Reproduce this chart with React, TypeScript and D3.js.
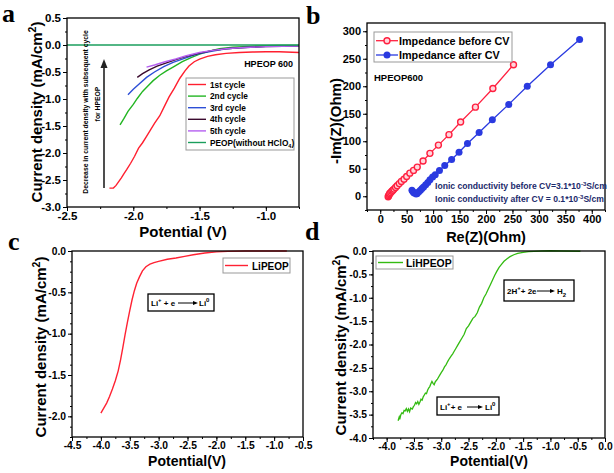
import { useEffect, useRef } from "react";
import * as d3 from "d3";

type Pt = [number, number];

// ---- panel a: LSV cycles, potential (V) vs current density (mA/cm2)
const cycleNames = ["1st cycle", "2nd cycle", "3rd cycle", "4th cycle", "5th cycle", "PEOP(without HClO"];
const cycleColors = ["#ff1f2f", "#22b522", "#2d4fd6", "#3a0a2e", "#b55ff0", "#1a9e5c"];
const cycle1: Pt[] = [[-2.18, -2.65], [-2.15, -2.65], [-2.13, -2.6], [-2.11, -2.53], [-2.09, -2.46], [-2.07, -2.38], [-2.05, -2.31], [-2.02, -2.19], [-1.99, -2.06], [-1.96, -1.91], [-1.93, -1.81], [-1.9, -1.69], [-1.87, -1.57], [-1.84, -1.45], [-1.8, -1.31], [-1.77, -1.16], [-1.73, -0.96], [-1.69, -0.8], [-1.65, -0.62], [-1.61, -0.48], [-1.58, -0.39], [-1.54, -0.31], [-1.5, -0.26], [-1.44, -0.21], [-1.38, -0.18], [-1.3, -0.155], [-1.2, -0.14], [-1.1, -0.13], [-1.0, -0.125], [-0.9, -0.125], [-0.8, -0.135], [-0.75, -0.14]];
const cycle2: Pt[] = [[-2.1, -1.48], [-2.07, -1.36], [-2.04, -1.23], [-2.0, -1.1], [-1.97, -0.99], [-1.93, -0.86], [-1.89, -0.76], [-1.85, -0.66], [-1.8, -0.56], [-1.75, -0.48], [-1.7, -0.41], [-1.63, -0.31], [-1.56, -0.23], [-1.5, -0.17], [-1.42, -0.11], [-1.35, -0.07], [-1.25, -0.04], [-1.1, -0.02], [-0.9, -0.01], [-0.75, -0.01]];
const cycle3: Pt[] = [[-2.04, -0.92], [-2.0, -0.82], [-1.96, -0.73], [-1.9, -0.6], [-1.84, -0.5], [-1.77, -0.4], [-1.7, -0.32], [-1.63, -0.26], [-1.56, -0.2], [-1.5, -0.16], [-1.4, -0.11], [-1.3, -0.07], [-1.2, -0.05], [-1.0, -0.025], [-0.75, -0.02]];
const cycle4: Pt[] = [[-1.97, -0.6], [-1.93, -0.53], [-1.88, -0.46], [-1.82, -0.39], [-1.75, -0.33], [-1.68, -0.27], [-1.6, -0.21], [-1.5, -0.15], [-1.4, -0.1], [-1.3, -0.07], [-1.2, -0.05], [-1.0, -0.03], [-0.75, -0.02]];
const cycle5: Pt[] = [[-1.9, -0.41], [-1.84, -0.37], [-1.76, -0.31], [-1.68, -0.26], [-1.6, -0.2], [-1.5, -0.14], [-1.4, -0.1], [-1.3, -0.07], [-1.2, -0.05], [-1.0, -0.03], [-0.75, -0.02]];
const peop: Pt[] = [[-2.5, 0], [-0.75, 0]];
const aXTicks = [-2.5, -2.0, -1.5, -1.0];
const aYTicks = [0.5, 0.0, -0.5, -1.0, -1.5, -2.0, -2.5, -3.0];

// ---- panel b: Nyquist, Re(Z) vs -Im(Z)
const beforeCV: Pt[] = [[15, -1], [16, 1], [17, 3], [18, 5], [20, 7], [22, 9], [24, 11], [26, 13], [29, 16], [32, 19], [36, 23], [40, 27], [45, 31], [50, 36], [56, 42], [63, 47], [70, 53], [81, 64], [94, 78], [110, 93], [130, 112], [152, 135], [180, 162], [213, 196], [252, 239]];
const afterCV: Pt[] = [[60, 11], [62, 8], [64, 6], [68, 4], [70, 5], [73, 8], [76, 11], [79, 14], [82, 17], [86, 21], [90, 25], [94, 30], [99, 35], [104, 39], [112, 47], [122, 56], [135, 67], [149, 80], [165, 96], [187, 116], [212, 139], [243, 167], [278, 200], [322, 239], [377, 285]];
const bXTicks = [0, 50, 100, 150, 200, 250, 300, 350, 400];
const bYTicks = [0, 50, 100, 150, 200, 250, 300];

// ---- panel c: LiPEOP
const liPeop: Pt[] = [[-4.0, -1.96], [-3.95, -1.9], [-3.9, -1.84], [-3.85, -1.76], [-3.8, -1.67], [-3.75, -1.57], [-3.7, -1.45], [-3.66, -1.32], [-3.62, -1.17], [-3.58, -1.01], [-3.54, -0.86], [-3.5, -0.72], [-3.46, -0.59], [-3.42, -0.48], [-3.38, -0.39], [-3.33, -0.31], [-3.28, -0.24], [-3.22, -0.19], [-3.15, -0.16], [-3.08, -0.14], [-3.0, -0.125], [-2.85, -0.1], [-2.7, -0.085], [-2.55, -0.065], [-2.4, -0.045], [-2.2, -0.025], [-2.0, -0.01], [-1.8, -0.004], [-1.5, 0], [-0.78, 0]];
const cXTicks = [-4.5, -4.0, -3.5, -3.0, -2.5, -2.0, -1.5, -1.0, -0.5];
const cYTicks = [0.0, -0.5, -1.0, -1.5, -2.0];

// ---- panel d: LiHPEOP
const liHpeop: Pt[] = [[-3.79, -3.63], [-3.77, -3.55], [-3.76, -3.6], [-3.74, -3.5], [-3.72, -3.46], [-3.7, -3.48], [-3.68, -3.41], [-3.66, -3.42], [-3.64, -3.37], [-3.62, -3.43], [-3.6, -3.38], [-3.58, -3.44], [-3.56, -3.36], [-3.53, -3.38], [-3.51, -3.33], [-3.49, -3.3], [-3.47, -3.24], [-3.45, -3.27], [-3.43, -3.22], [-3.41, -3.28], [-3.39, -3.23], [-3.37, -3.17], [-3.35, -3.19], [-3.33, -3.12], [-3.31, -3.08], [-3.29, -3.04], [-3.27, -3.05], [-3.25, -2.98], [-3.23, -2.93], [-3.21, -2.9], [-3.19, -2.84], [-3.17, -2.79], [-3.15, -2.83], [-3.13, -2.86], [-3.11, -2.8], [-3.09, -2.77], [-3.07, -2.74], [-3.05, -2.7], [-3.03, -2.66], [-3.0, -2.6], [-2.97, -2.55], [-2.94, -2.48], [-2.91, -2.43], [-2.88, -2.36], [-2.85, -2.3], [-2.82, -2.25], [-2.79, -2.2], [-2.76, -2.14], [-2.73, -2.08], [-2.7, -2.02], [-2.66, -1.94], [-2.62, -1.86], [-2.58, -1.78], [-2.54, -1.66], [-2.5, -1.6], [-2.46, -1.52], [-2.42, -1.44], [-2.38, -1.4], [-2.34, -1.32], [-2.3, -1.2], [-2.26, -1.12], [-2.22, -1.0], [-2.18, -0.92], [-2.14, -0.82], [-2.1, -0.72], [-2.06, -0.62], [-2.02, -0.52], [-1.98, -0.43], [-1.94, -0.35], [-1.9, -0.29], [-1.85, -0.22], [-1.8, -0.17], [-1.74, -0.12], [-1.67, -0.08], [-1.6, -0.05], [-1.5, -0.03], [-1.4, -0.015], [-1.3, -0.007], [-1.15, 0], [-1.0, 0.005], [-0.8, 0], [-0.45, -0.005]];
const dXTicks = [-4.0, -3.5, -3.0, -2.5, -2.0, -1.5, -1.0, -0.5, 0.0];
const dYTicks = [0.0, -0.5, -1.0, -1.5, -2.0, -2.5, -3.0, -3.5, -4.0];

const FONT = "'Liberation Sans', Arial, sans-serif";
const SERIF = "'Liberation Serif', 'Times New Roman', serif";

type Sel = d3.Selection<SVGSVGElement, unknown, null, undefined>;
interface Box { l: number; r: number; t: number; b: number }

function frame(
  svg: Sel, box: Box, xDom: number[], yDom: number[],
  xTicks: number[], yTicks: number[], xMinorStep: number, yMinorStep: number,
  fs: number, fmt: (d: number) => string,
) {
  const x = d3.scaleLinear().domain(xDom).range([box.l, box.r]);
  const y = d3.scaleLinear().domain(yDom).range([box.b, box.t]);
  const xMinor = d3.range(xDom[0], xDom[1] + 1e-9, xMinorStep);
  const yMinor = d3.range(yDom[0], yDom[1] + 1e-9, yMinorStep);
  const g = svg.append("g");

  const style = (s: d3.Selection<SVGGElement, unknown, null, undefined>) => {
    s.select(".domain").remove();
    s.selectAll(".tick line").attr("stroke", "#000").attr("stroke-width", 1);
    s.selectAll("text").attr("font-family", FONT).attr("font-weight", "bold").attr("font-size", fs).attr("fill", "#000");
  };

  g.append("g").attr("transform", `translate(0,${box.b})`)
    .call(d3.axisBottom(x).tickValues(xMinor).tickSize(2).tickFormat(() => "")).call(style);
  g.append("g").attr("transform", `translate(0,${box.b})`)
    .call(d3.axisBottom(x).tickValues(xTicks).tickSize(4).tickPadding(1).tickFormat((d) => fmt(+d))).call(style);
  g.append("g").attr("transform", `translate(${box.l},0)`)
    .call(d3.axisLeft(y).tickValues(yMinor).tickSize(2).tickFormat(() => "")).call(style);
  g.append("g").attr("transform", `translate(${box.l},0)`)
    .call(d3.axisLeft(y).tickValues(yTicks).tickSize(4).tickPadding(2).tickFormat((d) => fmt(+d))).call(style);

  return { x, y, g };
}

function border(svg: Sel, box: Box) {
  svg.append("rect").attr("x", box.l).attr("y", box.t).attr("width", box.r - box.l).attr("height", box.b - box.t)
    .attr("fill", "none").attr("stroke", "#000").attr("stroke-width", 1.3);
}

function boldText(svg: Sel, x: number, y: number, fs: number, str: string, anchor = "start") {
  return svg.append("text").attr("x", x).attr("y", y).attr("font-family", FONT).attr("font-weight", "bold")
    .attr("font-size", fs).attr("text-anchor", anchor).text(str);
}

function yTitle(svg: Sel, cx: number, cy: number, fs: number) {
  const t = svg.append("text").attr("transform", `translate(${cx},${cy}) rotate(-90)`).attr("text-anchor", "middle")
    .attr("font-family", FONT).attr("font-weight", "bold").attr("font-size", fs);
  t.append("tspan").text("Current density (mA/cm");
  t.append("tspan").attr("dy", -fs * 0.4).attr("font-size", fs * 0.7).text("2");
  t.append("tspan").attr("dy", fs * 0.4).text(")");
}

function letter(svg: Sel, x: number, y: number, s: string) {
  svg.append("text").attr("x", x).attr("y", y).attr("font-family", SERIF).attr("font-weight", "bold").attr("font-size", 26).text(s);
}

function arrowLine(svg: Sel, x1: number, x2: number, y: number) {
  svg.append("line").attr("x1", x1).attr("x2", x2 - 4).attr("y1", y).attr("y2", y).attr("stroke", "#000").attr("stroke-width", 1);
  svg.append("path").attr("d", `M${x2},${y} L${x2 - 5},${y - 2} L${x2 - 5},${y + 2} Z`).attr("fill", "#000");
}

const fmt1 = (d: number) => d.toFixed(1);

export default function App() {
  const ref = useRef<SVGSVGElement>(null);

  useEffect(() => {
    if (!ref.current) return;
    const svg = d3.select(ref.current);
    svg.selectAll("*").remove();
    svg.append("rect").attr("width", 614).attr("height", 473).attr("fill", "#fff");

    // ===== a =====
    const boxA = { l: 67, r: 299, t: 18, b: 207 };
    const A = frame(svg, boxA, [-2.5, -0.75], [-3.0, 0.5], aXTicks, aYTicks, 0.25, 0.25, 11.5, fmt1);
    const lineA = d3.line<Pt>().x((d) => A.x(d[0])).y((d) => A.y(d[1]));
    [cycle1, cycle2, cycle3, cycle4, cycle5, peop].forEach((s, i) => {
      svg.append("path").datum(s).attr("d", lineA).attr("fill", "none").attr("stroke", cycleColors[i]).attr("stroke-width", 1.4);
    });
    border(svg, boxA);
    yTitle(svg, 42, 112, 15);
    boldText(svg, 183, 237, 15, "Potential (V)", "middle");
    boldText(svg, 293, 67, 9, "HPEOP 600", "end");
    // legend a
    svg.append("rect").attr("x", 186).attr("y", 78).attr("width", 108).attr("height", 72)
      .attr("fill", "#fff").attr("stroke", "#999").attr("stroke-width", 1);
    cycleNames.forEach((n, i) => {
      const ry = 84.5 + i * 11.6;
      svg.append("line").attr("x1", 188).attr("x2", 206).attr("y1", ry).attr("y2", ry).attr("stroke", cycleColors[i]).attr("stroke-width", 1.4);
      const t = boldText(svg, 210, ry + 3, 8.3, n);
      if (i === 5) {
        t.append("tspan").attr("dy", 2).attr("font-size", 5.5).text("4");
        t.append("tspan").attr("dy", -2).text(")");
      }
    });
    // arrow + note
    svg.append("line").attr("x1", 104).attr("x2", 104).attr("y1", 188).attr("y2", 66).attr("stroke", "#222").attr("stroke-width", 1.6);
    svg.append("path").attr("d", "M104,59 L100.5,68 L107.5,68 Z").attr("fill", "#222");
    svg.append("text").attr("transform", "translate(88,112) rotate(-90)").attr("text-anchor", "middle")
      .attr("font-family", FONT).attr("font-weight", "bold").attr("font-size", 6.8)
      .text("Decrease in current density with subsequent cycle");
    svg.append("text").attr("transform", "translate(100,104) rotate(-90)").attr("text-anchor", "middle")
      .attr("font-family", FONT).attr("font-weight", "bold").attr("font-size", 6.8).text("for HPEOP");
    letter(svg, 2, 22, "a");

    // ===== b =====
    const boxB = { l: 367, r: 605, t: 23, b: 210 };
    const B = frame(svg, boxB, [-25, 425], [-25, 315], bXTicks, bYTicks, 25, 25, 11, (d) => String(d));
    const lineB = d3.line<Pt>().x((d) => B.x(d[0])).y((d) => B.y(d[1]));
    svg.append("path").datum(beforeCV).attr("d", lineB).attr("fill", "none").attr("stroke", "#ff2040").attr("stroke-width", 1.3);
    svg.append("path").datum(afterCV).attr("d", lineB).attr("fill", "none").attr("stroke", "#2a3ae0").attr("stroke-width", 1.3);
    svg.append("g").selectAll("circle").data(beforeCV).join("circle")
      .attr("cx", (d) => B.x(d[0])).attr("cy", (d) => B.y(d[1])).attr("r", 3)
      .attr("fill", "#ffd6dc").attr("stroke", "#ff2040").attr("stroke-width", 1.4);
    svg.append("g").selectAll("circle").data(afterCV).join("circle")
      .attr("cx", (d) => B.x(d[0])).attr("cy", (d) => B.y(d[1])).attr("r", 3.5).attr("fill", "#2a3ae0");
    border(svg, boxB);
    svg.append("text").attr("transform", "translate(341,121) rotate(-90)").attr("text-anchor", "middle")
      .attr("font-family", FONT).attr("font-weight", "bold").attr("font-size", 15).text("-Im(Z)(Ohm)");
    boldText(svg, 486, 242, 14.5, "Re(Z)(Ohm)", "middle");
    svg.append("rect").attr("x", 374).attr("y", 32).attr("width", 138).attr("height", 30)
      .attr("fill", "#fff").attr("stroke", "#999").attr("stroke-width", 1);
    const legB: [string, string, number][] = [["Impedance before CV", "#ff2040", 40.7], ["Impedance after CV", "#2a3ae0", 55]];
    legB.forEach(([n, c, ry], i) => {
      svg.append("line").attr("x1", 376).attr("x2", 398).attr("y1", ry).attr("y2", ry).attr("stroke", c).attr("stroke-width", 1.3);
      svg.append("circle").attr("cx", 387).attr("cy", ry).attr("r", i === 0 ? 3 : 3.5)
        .attr("fill", i === 0 ? "#ffd6dc" : c).attr("stroke", c).attr("stroke-width", i === 0 ? 1.4 : 0);
      boldText(svg, 399, ry + 4, 10.8, n);
    });
    boldText(svg, 374, 81, 9.5, "HPEOP600");
    const cond = (y: number, a: string, b: string) => {
      const t = boldText(svg, 435, y, 8.6, a).attr("fill", "#1b2a6b");
      t.append("tspan").attr("dy", -3).attr("font-size", 6).text("-3");
      t.append("tspan").attr("dy", 3).text(b);
    };
    cond(189, "Ionic conductivity before CV=3.1*10", "S/cm");
    cond(202, "Ionic conductivity after CV = 0.1*10", "S/cm");
    letter(svg, 306, 24, "b");

    // ===== c =====
    const boxC = { l: 72, r: 303, t: 251, b: 437 };
    const C = frame(svg, boxC, [-4.5, -0.5], [-2.25, 0], cXTicks, cYTicks, 0.25, 0.125, 10.3, fmt1);
    const lineC = d3.line<Pt>().x((d) => C.x(d[0])).y((d) => C.y(d[1]));
    svg.append("path").datum(liPeop).attr("d", lineC).attr("fill", "none").attr("stroke", "#ff2233").attr("stroke-width", 1.4);
    border(svg, boxC);
    yTitle(svg, 46, 347, 15);
    boldText(svg, 187, 466, 14, "Potential(V)", "middle");
    svg.append("rect").attr("x", 223).attr("y", 258).attr("width", 67).attr("height", 15)
      .attr("fill", "#fff").attr("stroke", "#999").attr("stroke-width", 1);
    svg.append("line").attr("x1", 225).attr("x2", 248).attr("y1", 265.5).attr("y2", 265.5).attr("stroke", "#ff2233").attr("stroke-width", 1.4);
    boldText(svg, 252, 269.5, 10, "LiPEOP");
    svg.append("rect").attr("x", 148).attr("y", 294).attr("width", 66).attr("height", 17)
      .attr("fill", "none").attr("stroke", "#000").attr("stroke-width", 1.3);
    {
      const t = boldText(svg, 151, 306, 8, "Li");
      t.append("tspan").attr("dy", -4).attr("font-size", 6).text("+");
      t.append("tspan").attr("dy", 4).text(" + e");
      arrowLine(svg, 178, 198, 303);
      const t2 = boldText(svg, 199, 306, 8, "Li");
      t2.append("tspan").attr("dy", -4).attr("font-size", 6).text("0");
    }
    letter(svg, 8, 250, "c");

    // ===== d =====
    const boxD = { l: 373, r: 605, t: 251, b: 438 };
    const D = frame(svg, boxD, [-4.25, 0], [-4.0, 0], dXTicks, dYTicks, 0.25, 0.25, 10.3, fmt1);
    const lineD = d3.line<Pt>().x((d) => D.x(d[0])).y((d) => D.y(d[1]));
    svg.append("path").datum(liHpeop).attr("d", lineD).attr("fill", "none").attr("stroke", "#33bb11").attr("stroke-width", 1.3);
    border(svg, boxD);
    yTitle(svg, 346, 345, 15);
    boldText(svg, 489, 466, 14, "Potential(V)", "middle");
    svg.append("rect").attr("x", 376).attr("y", 256).attr("width", 77).attr("height", 13)
      .attr("fill", "#fff").attr("stroke", "#999").attr("stroke-width", 1);
    svg.append("line").attr("x1", 378).attr("x2", 403).attr("y1", 262.5).attr("y2", 262.5).attr("stroke", "#33bb11").attr("stroke-width", 1.4);
    boldText(svg, 406, 266.5, 10.4, "LiHPEOP");
    svg.append("rect").attr("x", 504).attr("y", 280).attr("width", 70).attr("height", 21)
      .attr("fill", "none").attr("stroke", "#000").attr("stroke-width", 1.3);
    {
      const t = boldText(svg, 507, 294, 8, "2H");
      t.append("tspan").attr("dy", -4).attr("font-size", 6).text("+");
      t.append("tspan").attr("dy", 4).text("+ 2e");
      arrowLine(svg, 537, 555, 291);
      const t2 = boldText(svg, 557, 294, 8, "H");
      t2.append("tspan").attr("dy", 2.5).attr("font-size", 6).text("2");
    }
    svg.append("rect").attr("x", 437).attr("y", 397).attr("width", 62).attr("height", 18)
      .attr("fill", "none").attr("stroke", "#000").attr("stroke-width", 1.3);
    {
      const t = boldText(svg, 440, 410, 8, "Li");
      t.append("tspan").attr("dy", -4).attr("font-size", 6).text("+");
      t.append("tspan").attr("dy", 4).text("+ e");
      arrowLine(svg, 467, 483, 407);
      const t2 = boldText(svg, 485, 410, 8, "Li");
      t2.append("tspan").attr("dy", -4).attr("font-size", 6).text("0");
    }
    letter(svg, 305, 240, "d");
  }, []);

  return (
    <svg ref={ref} width={614} height={473} style={{ position: "absolute", left: 0, top: 0, display: "block" }} />
  );
}
